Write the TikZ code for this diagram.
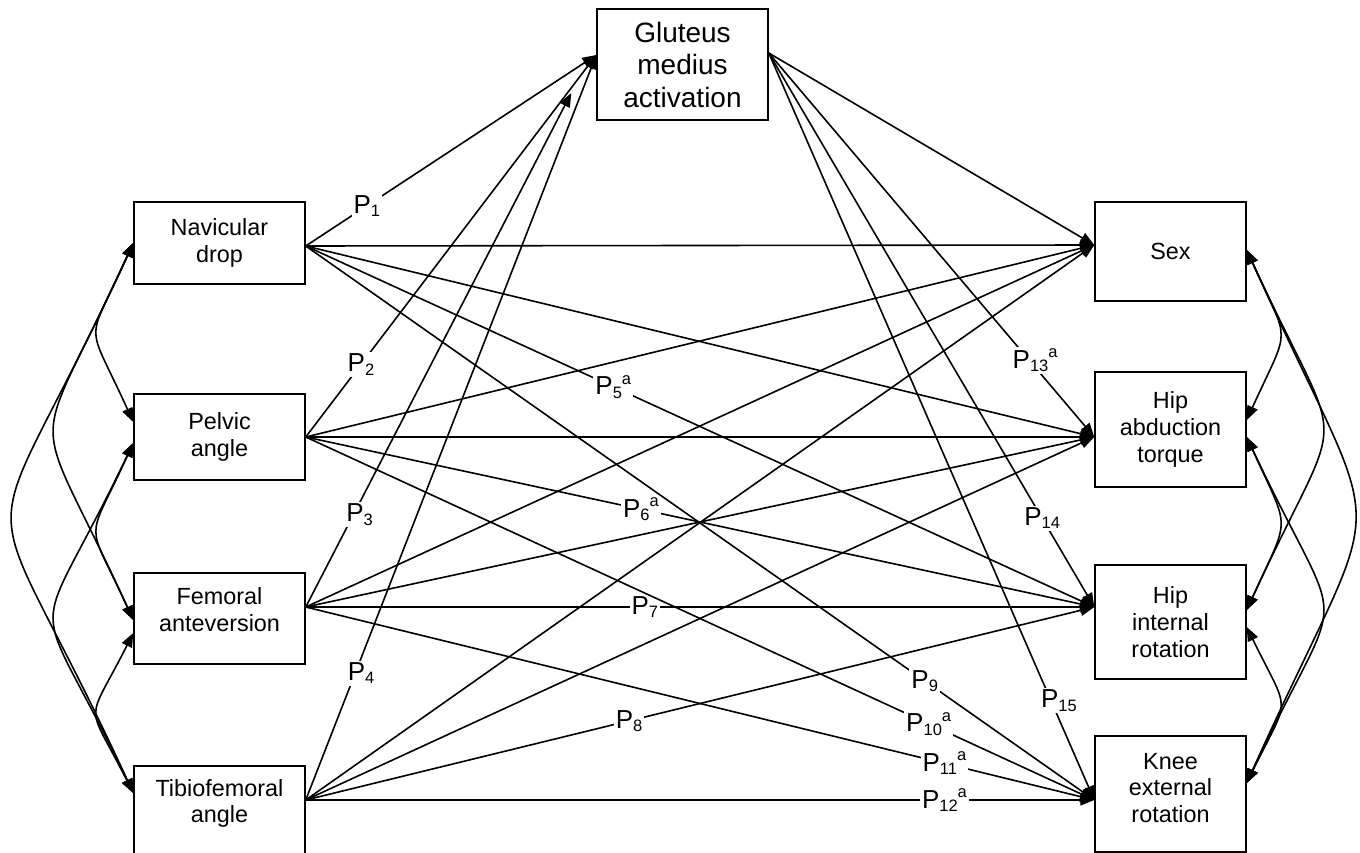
\documentclass[tikz,border=0pt]{standalone}
\usepackage{fontspec}
\setmainfont{Liberation Sans}
\usetikzlibrary{arrows.meta}
\newcommand{\pathlab}[2]{P\raisebox{-3.3pt}{\fontsize{16.5}{18}\selectfont #1}\raisebox{10.7pt}{\fontsize{16.5}{18}\selectfont #2}}
\begin{document}
\begin{tikzpicture}[x=1pt,y=-1pt,
  box/.style={draw, line width=1.5pt, align=center, inner sep=0pt, font=\fontsize{23.4}{26.7}\selectfont},
  bigbox/.style={box, font=\fontsize{28}{32.5}\selectfont},
  txt/.style={align=center, inner sep=0pt, font=\fontsize{23.4}{26.7}\selectfont},
  conn/.style={line width=1.6pt, -{Triangle[length=14pt,width=11pt]}},
  cov/.style={line width=1.6pt, {Triangle[length=14pt,width=11pt]}-{Triangle[length=14pt,width=11pt]}},
  lab/.style={fill=white, inner sep=2pt, font=\fontsize{26}{28}\selectfont}]
\useasboundingbox (0,0) rectangle (1360,853);
\clip (0,0) rectangle (1360,853);

% boxes
\node[box, minimum width=171pt, minimum height=82pt] (nav) at (219.5,243) {Navicular\\drop};
\node[box, minimum width=171pt, minimum height=86pt] (pel) at (219.5,437) {Pelvic\\angle};
\node[box, minimum width=171pt, minimum height=91pt,
      label={[txt,yshift=9pt]center:{Femoral\\anteversion}}] (fem) at (219.5,618.5) {};
\node[box, minimum width=171pt, minimum height=91pt,
      label={[txt,yshift=8pt]center:{Tibiofemoral\\angle}}] (tib) at (219.5,811.5) {};
\node[bigbox, minimum width=171pt, minimum height=111pt] (glut) at (682.5,64.5) {Gluteus\\medius\\activation};
\node[box, minimum width=151pt, minimum height=99pt] (sex) at (1170.5,251.5) {Sex};
\node[box, minimum width=151pt, minimum height=115pt] (abd) at (1170.5,429.5) {Hip\\abduction\\torque};
\node[box, minimum width=151pt, minimum height=114pt] (int) at (1170.5,622) {Hip\\internal\\rotation};
\node[box, minimum width=151pt, minimum height=116pt,
      label={[txt,yshift=6pt]center:{Knee\\external\\rotation}}] (kne) at (1170.5,794) {};

% attachment points
\coordinate (navR) at ([yshift=-3pt]nav.east);
\coordinate (pelR) at (pel.east);
\coordinate (femR) at ([yshift=11.5pt]fem.east);
\coordinate (tibR) at ([yshift=11.5pt]tib.east);
\coordinate (glL) at ([yshift=9.5pt]glut.west);
\coordinate (glL2) at ([xshift=-25pt,yshift=-28.5pt]glut.west);
\coordinate (glR) at ([yshift=11.5pt]glut.east);
\coordinate (sexL) at ([yshift=6.5pt]sex.west);
\coordinate (abdL) at ([yshift=-7.5pt]abd.west);
\coordinate (intL) at ([yshift=15pt]int.west);
\coordinate (kneL) at ([yshift=-6pt]kne.west);

\coordinate (navL) at (nav.west);
\coordinate (pelA) at ([yshift=15pt]pel.west);
\coordinate (pelB) at ([yshift=-6pt]pel.west);
\coordinate (femA) at ([yshift=-1.5pt]fem.west);
\coordinate (femB) at ([yshift=-14.5pt]fem.west);
\coordinate (tibL) at ([yshift=18.5pt]tib.west);

\coordinate (sexR) at ([yshift=1.5pt]sex.east);
\coordinate (abdA) at ([yshift=9.5pt]abd.east);
\coordinate (abdB) at ([yshift=-7.5pt]abd.east);
\coordinate (intA) at ([yshift=12pt]int.east);
\coordinate (intB) at ([yshift=-5pt]int.east);
\coordinate (kneR) at ([yshift=11pt]kne.east);

% unlabeled paths
\draw[conn] (navR) -- (sexL);
\draw[conn] (pelR) -- (sexL);
\draw[conn] (femR) -- (sexL);
\draw[conn] (tibR) -- (sexL);
\draw[conn] (navR) -- (abdL);
\draw[conn] (pelR) -- (abdL);
\draw[conn] (femR) -- (abdL);
\draw[conn] (tibR) -- (abdL);
\draw[conn] (glR) -- (sexL);

% labeled paths
\draw[conn] (navR) -- node[lab,pos=0.21]{\pathlab{1}{}} (glL);
\draw[conn] (pelR) -- node[lab,pos=0.19]{\pathlab{2}{}} (glL);
\draw[conn] (femR) -- node[lab,pos=0.18,xshift=6pt]{\pathlab{3}{}} (glL2);
\draw[conn] (tibR) -- node[lab,pos=0.17,xshift=6pt]{\pathlab{4}{}} (glL);
\draw[conn] (navR) -- node[lab,pos=0.39]{\pathlab{5}{a}} (intL);
\draw[conn] (pelR) -- node[lab,pos=0.425]{\pathlab{6}{a}} (intL);
\draw[conn] (femR) -- node[lab,pos=0.43]{\pathlab{7}{}} (intL);
\draw[conn] (tibR) -- node[lab,pos=0.41]{\pathlab{8}{}} (intL);
\draw[conn] (navR) -- node[lab,pos=0.785]{\pathlab{9}{}} (kneL);
\draw[conn] (pelR) -- node[lab,pos=0.79]{\pathlab{10}{a}} (kneL);
\draw[conn] (femR) -- node[lab,pos=0.81]{\pathlab{11}{a}} (kneL);
\draw[conn] (tibR) -- node[lab,pos=0.81]{\pathlab{12}{a}} (kneL);
\draw[conn] (glR) -- node[lab,pos=0.8,xshift=6pt]{\pathlab{13}{a}} (abdL);
\draw[conn] (glR) -- node[lab,pos=0.84]{\pathlab{14}{}} (intL);
\draw[conn] (glR) -- node[lab,pos=0.867,xshift=8pt]{\pathlab{15}{}} (kneL);

% covariances left
\draw[cov] (navL) .. controls +(-48,106) and +(-48,-106) .. (pelA);
\draw[cov] (navL) .. controls +(-105,230) and +(-105,-230) .. (femA);
\draw[cov] (navL) .. controls +(-161,350) and +(-161,-350) .. (tibL);
\draw[cov] (pelB) .. controls +(-48,105) and +(-48,-105) .. (femA);
\draw[cov] (pelB) .. controls +(-105,220) and +(-105,-220) .. (tibL);
\draw[cov] (femB) .. controls +(-48,95) and +(-48,-95) .. (tibL);

% covariances right
\draw[cov] (sexR) .. controls +(44,97) and +(44,-97) .. (abdA);
\draw[cov] (sexR) .. controls +(101,220) and +(101,-220) .. (intA);
\draw[cov] (sexR) .. controls +(144,320) and +(144,-320) .. (kneR);
\draw[cov] (abdB) .. controls +(44,97) and +(44,-97) .. (intA);
\draw[cov] (abdB) .. controls +(101,215) and +(101,-215) .. (kneR);
\draw[cov] (intB) .. controls +(44,90) and +(44,-90) .. (kneR);
\end{tikzpicture}
\end{document}
